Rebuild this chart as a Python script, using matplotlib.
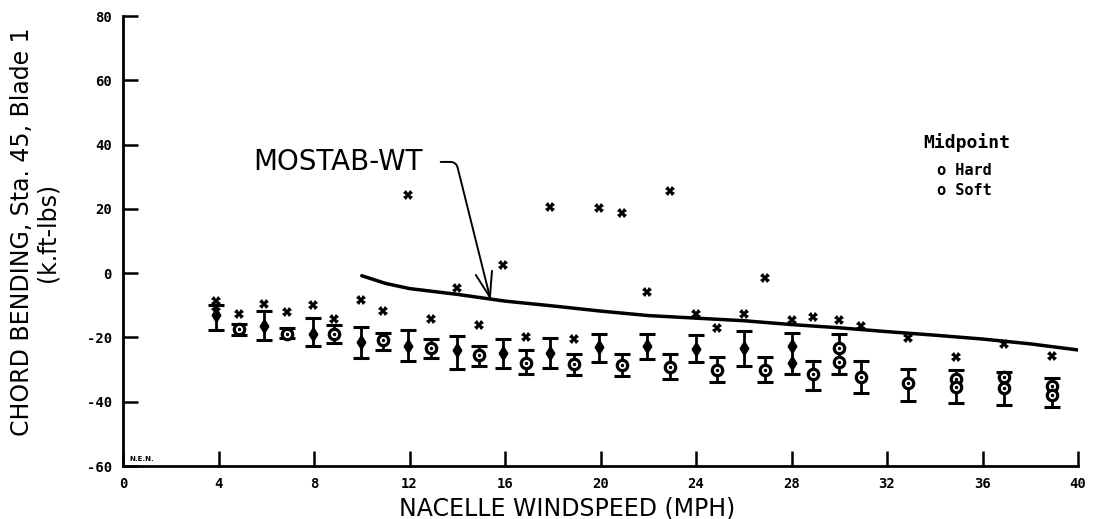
import matplotlib
matplotlib.use("Agg")
import matplotlib.pyplot as plt
import numpy as np

plt.rcParams['font.family'] = ['DejaVu Sans']
plt.rcParams['axes.unicode_minus'] = False

# ---- data ----
hard_x = [3.9, 5.9, 7.95, 9.95, 11.95, 14.0, 15.9, 17.9, 19.95, 21.95, 24.0, 26.0, 28.0]
hard_y = [-13.1, -16.5, -18.9, -21.4, -22.8, -23.9, -25.0, -25.0, -22.9, -22.6, -23.5, -23.2, -22.8]
hard_lo = [-17.7, -20.8, -22.6, -26.4, -27.4, -29.8, -29.4, -29.4, -27.8, -26.6, -27.8, -28.8, -31.5]
hard_hi = [-9.9, -11.8, -13.9, -16.7, -17.8, -19.5, -20.4, -20.1, -18.8, -18.8, -19.4, -17.9, -18.5]
hard_extra_x = [28.0]
hard_extra_y = [-28.1]

soft_x = [4.85, 6.85, 8.85, 10.9, 12.9, 14.9, 16.9, 18.9, 20.9, 22.9, 24.9, 26.9, 28.9,
          30.0, 30.9, 32.9, 34.9, 36.9, 38.9]
soft_y = [-17.5, -18.8, -19.0, -20.9, -23.3, -25.5, -28.0, -28.3, -28.6, -29.3, -30.2, -30.1, -31.4,
          -23.2, -32.3, -34.2, -33.0, -32.2, -35.0]
soft_lo = [-19.4, -20.3, -21.8, -24.0, -26.4, -28.9, -31.4, -31.7, -32.0, -33.0, -33.8, -33.8, -36.4,
           -31.3, -37.2, -39.8, -40.5, -40.9, -41.6]
soft_hi = [-15.7, -17.2, -16.2, -18.6, -20.5, -22.7, -24.0, -25.2, -25.2, -25.2, -26.1, -26.1, -27.3,
           -18.9, -27.2, -29.8, -30.0, -30.9, -32.5]
soft_extra_x = [30.0, 34.9, 36.9, 38.9]
soft_extra_y = [-27.6, -35.5, -35.6, -37.8]

cross_x = [3.9, 3.9, 4.85, 5.9, 6.85, 7.95, 8.85, 9.95, 10.9, 11.95, 12.9, 14.0, 14.9, 15.9, 16.9,
           17.9, 18.9, 19.95, 20.9, 21.95, 22.9, 24.0, 24.9, 26.0, 26.9, 28.0, 28.9, 30.0, 30.9,
           32.9, 34.9, 36.9, 38.9]
cross_y = [-8.7, -10.5, -12.6, -9.6, -12.2, -9.9, -14.4, -8.4, -11.9, 24.4, -14.4, -4.6, -16.2, 2.6, -19.9,
           20.7, -20.5, 20.4, 18.6, -5.8, 25.5, -12.8, -17.1, -12.6, -1.5, -14.7, -13.6, -14.7, -16.4,
           -20.1, -26.0, -22.0, -25.7]

model_x = [10, 11, 12, 14, 16, 18, 20, 22, 24, 26, 28, 30, 32, 34, 36, 38, 40]
model_y = [-0.8, -3.2, -4.8, -6.6, -8.7, -10.2, -11.8, -13.2, -14.0, -14.8, -16.0, -17.0, -18.2,
           -19.3, -20.5, -22.0, -23.9]

x_ticks = [0, 4, 8, 12, 16, 20, 24, 28, 32, 36, 40]
y_ticks = [-60, -40, -20, 0, 20, 40, 60, 80]

# ---- figure ----
fig = plt.figure(figsize=(10.95, 5.19), dpi=100)
ax = fig.add_axes([123 / 1095, 1 - 466 / 519, 955 / 1095, 450 / 519])
ax.set_xlim(0, 40)
ax.set_ylim(-60, 80)

for s in ['top', 'right']:
    ax.spines[s].set_visible(False)
for s in ['left', 'bottom']:
    ax.spines[s].set_linewidth(2.0)

ax.set_xticks(x_ticks)
ax.set_yticks(y_ticks)
ax.tick_params(direction='in', length=11, width=1.8, pad=8)
for lab in ax.get_xticklabels() + ax.get_yticklabels():
    lab.set_fontfamily('DejaVu Sans Mono')
    lab.set_fontweight('bold')
    lab.set_fontsize(10)

# model line
ax.plot(model_x, model_y, color='black', lw=2.5, solid_capstyle='round')

# error bars
hard_y_a = np.array(hard_y)
soft_y_a = np.array(soft_y)
ax.errorbar(hard_x, hard_y, yerr=[hard_y_a - np.array(hard_lo), np.array(hard_hi) - hard_y_a],
            fmt='none', ecolor='black', elinewidth=2.0, capsize=6, capthick=2.2)
ax.errorbar(soft_x, soft_y, yerr=[soft_y_a - np.array(soft_lo), np.array(soft_hi) - soft_y_a],
            fmt='none', ecolor='black', elinewidth=2.0, capsize=6, capthick=2.2)

# markers
diamond = [(0, 1), (0.62, 0), (0, -1), (-0.62, 0), (0, 1)]
ax.plot(hard_x + hard_extra_x, hard_y + hard_extra_y, linestyle='none', marker=diamond,
        markersize=10, color='black', zorder=4)
ax.plot(soft_x + soft_extra_x, soft_y + soft_extra_y, linestyle='none', marker='o',
        markersize=7.5, markerfacecolor='white', markeredgecolor='black', markeredgewidth=2.3, zorder=4)
ax.plot(soft_x + soft_extra_x, soft_y + soft_extra_y, linestyle='none', marker='.',
        markersize=3, color='black', zorder=5)
ax.plot(cross_x, cross_y, linestyle='none', marker='X', markersize=7, color='black',
        markeredgewidth=0, zorder=4)

# annotation
ax.annotate('MOSTAB-WT', xy=(15.4, -8.4), xytext=(9.0, 34.6), ha='center', va='center',
            fontsize=20, fontfamily='DejaVu Sans',
            arrowprops=dict(arrowstyle='->,head_length=0.9,head_width=0.3', color='black', lw=1.4,
                            connectionstyle='angle,angleA=0,angleB=104,rad=6', shrinkA=11, shrinkB=0))

# legend text
ax.text(0.838, 0.718, 'Midpoint', transform=ax.transAxes, fontsize=13, fontweight='bold',
        fontfamily='DejaVu Sans Mono', va='center', ha='left')
ax.text(0.852, 0.656, 'o Hard', transform=ax.transAxes, fontsize=11, fontweight='bold',
        fontfamily='DejaVu Sans Mono', va='center', ha='left')
ax.text(0.852, 0.613, 'o Soft', transform=ax.transAxes, fontsize=11, fontweight='bold',
        fontfamily='DejaVu Sans Mono', va='center', ha='left')
ax.text(0.007, 0.016, 'N.E.N.', transform=ax.transAxes, fontsize=5, fontweight='bold',
        va='center', ha='left')

# axis labels
ax.set_xlabel('NACELLE WINDSPEED (MPH)', fontsize=17)
ax.xaxis.set_label_coords((567 - 123) / 955, -0.068)
ax.set_ylabel('CHORD BENDING, Sta. 45, Blade 1\n(k.ft-lbs)', fontsize=17, linespacing=1.1)
ax.yaxis.set_label_coords(-0.066, 0.52)

fig.savefig('out.png', dpi=100)
